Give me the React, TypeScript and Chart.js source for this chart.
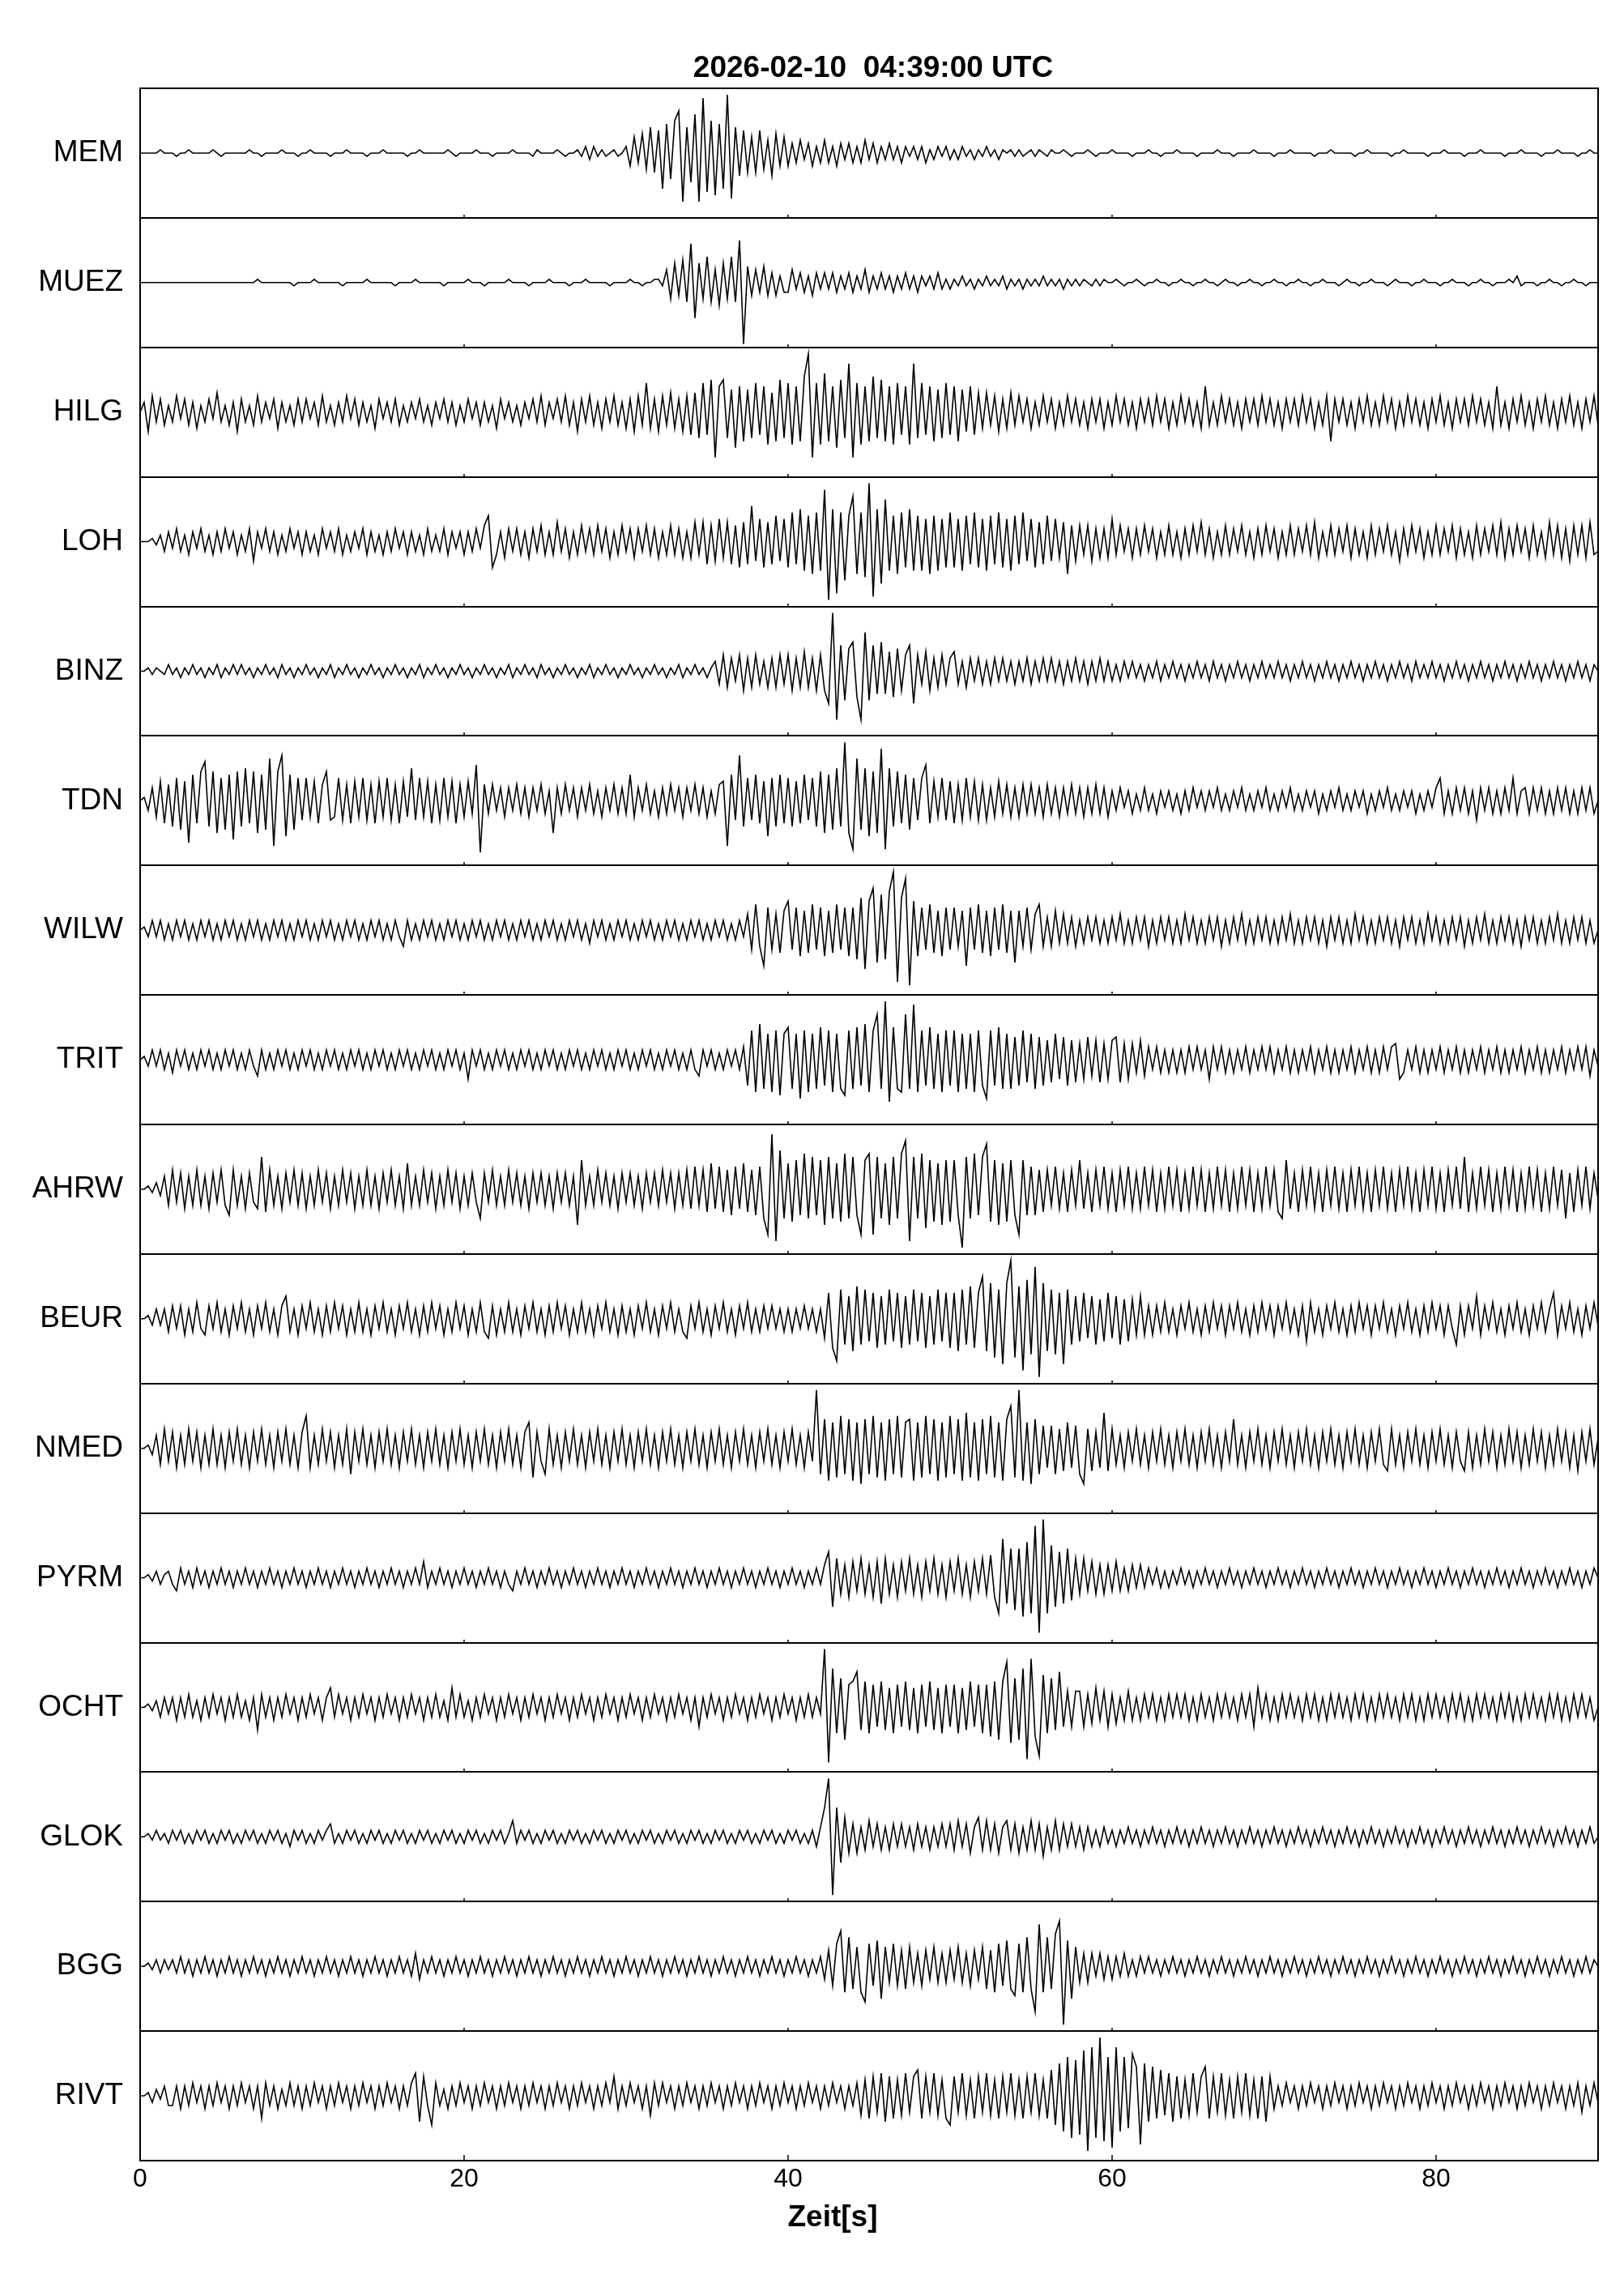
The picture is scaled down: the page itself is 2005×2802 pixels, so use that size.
import React, { useEffect, useRef } from 'react';
import { Chart, registerables } from 'chart.js';

Chart.register(...registerables);

// ---------------- data ----------------
const TITLE = '2026-02-10  04:39:00 UTC';
const X_LABEL = 'Zeit[s]';
const X_MIN = 0;
const X_MAX = 90;
const X_TICKS = [0, 20, 40, 60, 80];
const SAMPLE_STEP = 0.25; // seconds between samples
const FULL_SCALE = 20; // sample value that reaches the edge of a trace panel

const STATIONS = ['MEM', 'MUEZ', 'HILG', 'LOH', 'BINZ', 'TDN', 'WILW', 'TRIT', 'AHRW', 'BEUR', 'NMED', 'PYRM', 'OCHT', 'GLOK', 'BGG', 'RIVT'];

const MEM = [
  0,0,0,0,0,1,0,0, 0,-1,0,0,1,0,0,0, 0,0,1,0,-1,0,0,0, 0,0,0,1,0,0,-1,0, 0,0,0,1,0,0,0,-1,
  0,0,1,0,0,0,0,-1, 0,0,0,1,0,0,0,0, -1,0,0,0,1,0,0,0, 0,0,-1,0,0,1,0,0, 0,0,0,0,1,0,-1,0,
  0,0,0,1,0,0,0,-1, 0,0,0,0,1,0,0,0, 0,-1,1,0,0,0,0,1, 0,-1,0,0,1,-1,2,-2, 2,-1,1,-1,0,1,-1,0,
  2,-4,5,-3,6,-5,8,-6, 7,-11,9,-8,10,13,-15,8, -9,12,-15,17,-12,10,-13,9, -11,18,-14,8,-7,7,-6,5, -6,7,-5,4,-7,6,-4,5,
  -4,3,-3,4,-2,3,-4,2, -3,4,-3,2,-4,3,-2,3, -3,2,-3,4,-2,3,-3,2, -2,3,-2,2,-3,2,-1,2, -2,2,-3,1,-2,2,-1,2,
  -2,1,-2,2,-1,1,-2,1, -1,2,-1,1,-2,1,0,1, -1,1,-1,0,1,-1,1,0, -1,1,0,0,1,0,-1,0, 0,0,1,0,-1,0,0,0,
  1,0,0,0,0,-1,0,0, 0,1,0,0,-1,0,0,0, 1,0,0,0,0,-1,0,0, 0,0,1,0,0,0,-1,0, 0,0,0,1,0,0,0,0,
  -1,0,0,0,1,0,0,0, 0,0,-1,0,0,0,1,0, 0,0,0,0,-1,0,0,1, 0,0,0,0,0,-1,0,0, 1,0,0,0,0,0,-1,0,
  0,0,1,0,0,0,0,-1, 0,0,0,1,0,0,0,0, 0,-1,0,0,0,1,0,0, 0,0,-1,0,0,0,1,0, 0,0,0,-1,0,0,1,0,
  0,
];

const MUEZ = [
  0,0,0,0,0,0,0,0, 0,0,0,0,0,0,0,0, 0,0,0,0,0,0,0,0, 0,0,0,0,0,1,0,0, 0,0,0,0,0,0,-1,0,
  0,0,0,1,0,0,0,0, 0,0,-1,0,0,0,0,0, 1,0,0,0,0,0,0,-1, 0,0,0,0,1,0,0,0, 0,0,0,-1,0,0,0,0,
  0,1,0,0,0,-1,0,0, 0,0,0,1,0,0,0,0, -1,0,0,0,0,1,0,0, 0,0,-1,0,0,0,1,0, 0,0,0,0,-1,0,0,0,
  0,1,0,0,-1,0,0,1, 1,-1,4,-5,6,-4,7,-6, 12,-11,6,-5,8,-6,4,-7, 6,-5,8,-6,13,-19,5,-4, 4,-3,5,-4,3,-4,2,-3,
  -3,4,-2,3,-3,2,-4,3, -2,3,-2,3,-3,2,-2,3, -3,2,-2,4,-3,2,-2,3, -2,2,-3,2,-2,3,-2,2, -3,2,-1,2,-2,3,-2,1,
  -2,1,-1,2,-1,1,-2,1, -1,2,-1,1,-1,2,-2,1, -1,1,-2,1,-1,1,-1,2, -1,1,-1,1,-2,1,-1,1, -1,1,0,-1,1,-1,1,0,
  0,1,0,-1,0,0,1,0, -1,0,0,1,0,0,-1,0, 0,1,0,0,-1,0,0,1, 0,0,-1,0,1,0,0,-1, 0,0,1,0,0,-1,0,0,
  1,0,0,-1,0,0,1,0, 0,-1,0,0,1,0,0,0, -1,0,1,0,0,-1,0,0, 1,0,0,0,-1,0,1,0, 0,0,-1,0,0,1,0,0,
  0,-1,0,0,1,0,0,0, -1,0,0,1,0,0,-1,0, 0,0,1,0,2,-1,0,0, 0,-1,0,0,1,0,0,-1, 0,0,1,0,0,-1,0,0,
  0,
];

const HILG = [
  0,3,-6,5,-3,4,-4,2, -3,5,-2,4,-4,3,-5,2, -3,4,-2,6,-3,2,-4,3, -6,4,-3,2,-4,5,-3,3, -2,4,-5,3,-3,2,-4,4,
  -3,4,-2,3,-4,5,-3,2, -4,3,-3,5,-2,4,-4,3, -3,2,-5,4,-2,3,-3,4, -4,2,-3,3,-2,4,-3,2, -4,3,-2,4,-3,3,-4,2,
  -3,4,-2,3,-4,3,-3,2, -5,4,-2,3,-3,2,-4,3, -2,4,-3,5,-4,3,-2,4, -3,5,-4,3,-6,4,-3,5, -4,3,-5,4,-3,5,-4,3,
  -5,4,-6,5,-4,9,-5,4, -6,5,-4,6,-5,4,-6,5, -7,6,-8,9,-7,10,-14,8, 10,-8,7,-11,8,-9,7,-8, 9,-7,8,-10,6,-9,10,-8,
  9,-10,8,-9,11,18,-14,9, -10,12,-9,8,-11,10,-8,15, -14,9,-10,8,-9,11,-8,10, -9,8,-10,9,-7,8,-10,15, -8,9,-7,8,-9,7,-8,9,
  -7,8,-9,7,-6,8,-7,6, -5,6,-4,5,-6,4,-5,6, -4,5,-3,4,-5,3,-4,5, -3,4,-5,3,-4,5,-3,4, -4,3,-5,4,-3,4,-5,3,
  -4,5,-3,4,-4,3,-5,4, -3,4,-4,5,-3,4,-5,3, -4,5,-3,4,-4,3,-5,8, -4,3,-4,5,-3,4,-4,3, -5,4,-3,4,-4,5,-3,4,
  -4,3,-5,4,-3,4,-4,5, -3,4,-5,3,-4,5,-9,4, -3,4,-4,3,-5,4,-3,5, -4,3,-4,5,-3,4,-5,3, -4,5,-3,4,-4,3,-5,4,
  -3,5,-4,3,-5,4,-3,4, -4,5,-3,4,-4,3,-5,8, -4,3,-5,4,-3,5,-4,3, -5,4,-3,5,-4,3,-5,4, -3,5,-4,3,-5,4,-3,5,
  -4,
];

const LOH = [
  0,0,0,1,-1,2,-3,3, -2,4,-3,2,-4,3,-2,4, -3,2,-4,3,-3,4,-2,3, -4,2,-3,4,-6,3,-2,4, -3,3,-4,2,-3,4,-2,3,
  -4,3,-3,2,-4,4,-2,3, -3,4,-4,2,-3,3,-2,4, -4,3,-3,2,-4,3,-3,4, -2,3,-4,3,-3,2,-4,4, -3,2,-3,4,-4,3,-2,3,
  -4,3,-3,4,-2,5,8,-8, -4,3,-5,4,-3,4,-4,3, -5,4,-3,5,-4,3,-4,6, -3,4,-5,3,-4,5,-3,4, -4,5,-3,4,-5,3,-4,5,
  -3,4,-5,4,-3,5,-4,4, -5,3,-4,5,-4,4,-5,3, -5,6,-4,6,-7,5,-6,7, -5,6,-7,5,-8,6,-7,11, -6,7,-8,6,-7,8,-6,7,
  -8,9,-7,10,-9,8,-10,9, -9,16,-18,10,-16,9,-12,8, 14,-10,9,-11,18,-17,10,-13, 13,-9,8,-10,9,-8,10,-9, 8,-9,7,-10,8,-9,7,-8,
  9,-8,7,-9,8,-7,9,-8, 7,-9,8,-7,9,-8,7,-9, 8,-7,9,-6,7,-8,6,-7, 8,-6,7,-5,6,-10,5,-6, 5,-4,5,-6,4,-5,4,-5,
  7,-4,5,-3,4,-5,4,-4, 5,-3,4,-5,3,-4,5,-4, 3,-5,4,-4,5,-3,6,-4, 4,-5,3,-4,5,-4,4,-3, 5,-4,3,-5,4,-4,5,-3,
  4,-5,3,-4,5,-4,4,-3, 5,-4,6,-5,3,-4,5,-4, 4,-3,5,-5,4,-4,3,-5, 5,-4,4,-3,5,-4,3,-6, 4,-4,5,-3,4,-5,3,-4,
  5,-4,4,-3,5,-5,4,-4, 3,-5,5,-4,4,-3,5,-4, 6,-5,4,-4,5,-3,4,-5, 5,-4,3,-5,6,-4,5,-5, 4,-6,5,-4,5,-5,6,-4,
  -3,
];

const BINZ = [
  0,0,1,-1,1,0,-1,2, -1,1,-2,1,-1,2,-1,1, -2,1,-1,2,-2,1,-1,2, -1,2,-1,1,-2,1,-1,2, -1,1,-2,2,-1,1,-2,1,
  -1,2,-1,1,-2,1,-1,2, -2,1,-1,2,-1,1,-2,1, -1,2,-1,1,-2,1,-1,2, -1,1,-2,1,-1,2,-2,1, -1,2,-1,1,-2,1,-1,2,
  -1,1,-2,1,-1,2,-1,1, -2,1,-1,2,-2,1,-1,2, -1,1,-2,2,-1,1,-2,1, -1,2,-1,1,-2,1,-1,2, -2,1,-1,2,-1,1,-2,1,
  -1,2,-1,1,-2,1,-1,2, -1,1,-2,1,-1,2,-2,1, -1,2,-1,1,-2,1,3,-4, 5,-5,4,-3,5,-6,4,-5, 5,-4,3,-5,4,-5,5,-4,
  5,-6,4,-5,6,-5,4,-6, 5,-6,-10,18,-15,8,-9,7, 9,-8,-15,12,-9,8,-7,9, -7,6,-8,7,-6,5,8,-10, 5,-4,6,-6,4,-5,5,-4,
  4,6,-4,3,-5,4,-3,4, -4,3,-4,4,-3,4,-3,3, -4,3,-3,4,-4,3,-3,4, -3,4,-3,3,-4,3,-3,4, -3,3,-4,3,-3,4,-3,3,
  -3,2,-3,3,-2,3,-2,2, -3,2,-2,3,-3,2,-2,3, -2,2,-3,2,-2,3,-2,2, -3,3,-2,2,-3,2,-2,3, -2,2,-3,2,-2,3,-2,2,
  -2,3,-2,2,-3,2,-2,3, -2,2,-3,2,-2,3,-2,2, -3,2,-2,3,-2,2,-3,2, -2,3,-2,2,-3,2,-2,3, -2,2,-3,3,-2,2,-2,3,
  -2,2,-3,2,-2,3,-2,2, -3,2,-2,3,-2,2,-3,2, -2,3,-2,2,-3,2,-2,3, -2,2,-3,2,-2,3,-2,2, -3,2,-2,3,-2,2,-3,2,
  0,
];

const TDN = [
  0,1,-3,4,-5,6,-7,5, -8,7,-9,6,-13,8,-7,9, 12,-8,9,-10,7,-9,8,-12, 9,-8,10,-7,9,-10,8,-9, 13,-14,9,14,-11,8,-9,7,
  -6,7,-5,6,-7,5,9,-6, -5,7,-6,5,-7,6,-5,7, -6,5,-7,6,-5,7,-6,5, -7,6,-5,10,-6,7,-5,6, -7,5,-6,7,-5,6,-7,5,
  -5,6,-4,11,-16,5,-4,5, -3,4,-5,4,-3,5,-4,4, -5,4,-3,5,-4,3,-10,4, -4,5,-3,4,-5,4,-3,5, -4,3,-5,4,-3,5,-4,4,
  -4,8,-5,4,-3,5,-4,3, -5,4,-4,5,-3,4,-5,4, -3,5,-4,4,-5,3,-4,5, 6,-14,8,-6,14,-8,7,-6, 8,-7,6,-11,7,-8,8,-7,
  7,-8,6,-7,8,-6,7,-8, 9,-10,8,-9,10,-8,18,-10, -15,13,-9,10,-11,9,-10,16, -15,10,-8,9,-7,8,-9,7, -6,7,11,-7,6,-5,7,-6,
  6,-7,5,-6,7,-5,6,-6, 5,-6,4,-5,6,-4,5,-5, 4,-5,5,-4,5,-4,4,-5, 5,-4,4,-5,4,-4,5,-4, 4,-5,4,-4,5,-4,4,-5,
  3,-3,4,-2,3,-4,2,-3, 4,-3,2,-4,3,-2,3,-3, 2,-4,3,-3,4,-2,3,-3, 3,-2,4,-3,2,-3,3,-2, 4,-3,2,-3,3,-2,4,-3,
  2,-3,3,-2,4,-3,2,-3, 3,-2,3,-4,2,-3,3,-2, 4,-3,2,-3,3,-2,3,-4, 2,-3,3,-2,4,-3,2,-3, 3,-2,3,-4,2,-3,3,-2,
  4,7,-4,3,-4,4,-3,4, -4,3,-6,4,-3,4,-4,3, -4,4,-3,7,-4,3,4,-4, 4,-3,4,-4,3,-4,4,-3, 4,-4,3,-4,4,-3,4,-4,
  0,
];

const WILW = [
  0,1,-2,3,-2,3,-3,2, -3,3,-2,3,-3,2,-3,3, -2,3,-3,2,-3,3,-2,3, -3,2,-3,3,-2,3,-3,2, -3,3,-2,3,-3,2,-3,3,
  -2,3,-3,2,-3,3,-2,3, -3,2,-3,3,-2,3,-3,2, -3,3,-2,3,-3,2,-3,3, -2,-5,3,-3,2,-3,3,-2, 3,-3,2,-3,3,-2,3,-3,
  2,-3,3,-2,3,-3,2,-3, 3,-2,3,-3,2,-3,3,-2, 3,-3,2,-3,3,-2,3,-3, 2,-3,3,-2,3,-3,2,-4, 3,-2,3,-3,2,-3,3,-2,
  3,-3,2,-3,3,-2,3,-3, 2,-3,3,-2,3,-3,2,-3, 3,-2,3,-3,2,-3,3,-2, 3,-3,2,-3,3,-2,5,-6, 8,-5,-11,7,-6,5,-7,6,
  9,-6,7,-8,6,-7,8,-6, 7,-8,6,-7,8,-6,7,-8, 7,-9,10,-12,9,13,-10,11, -9,12,18,-16,10,16,-17,9, -8,7,-6,8,-7,6,-8,7,
  -6,7,-5,6,-11,7,-6,8, -7,6,-8,7,-6,8,-7,6, -10,6,-5,7,-6,5,8,-5, 4,-5,6,-4,5,-4,4,-5, 3,-4,4,-3,4,-4,3,-4,
  4,-3,5,-4,3,-4,4,-3, 4,-5,3,-4,4,-3,4,-4, 3,-4,5,-3,4,-4,3,-4, 4,-3,4,-5,3,-4,4,-3, 5,-4,3,-4,4,-3,4,-4,
  3,-4,4,-3,5,-4,3,-4, 4,-3,4,-4,3,-5,4,-3, 4,-4,3,-4,5,-3,4,-4, 3,-4,4,-3,4,-4,3,-5, 4,-3,4,-4,3,-4,5,-3,
  4,-4,3,-4,4,-3,4,-5, 3,-4,4,-3,5,-4,3,-4, 4,-3,4,-4,3,-5,4,-3, 4,-4,3,-4,4,-3,5,-4, 3,-4,4,-3,4,-4,3,-4,
  0,
];

const TRIT = [
  0,1,-2,3,-2,3,-3,2, -4,3,-2,3,-3,2,-3,3, -2,3,-3,2,-3,3,-2,3, -3,2,-3,3,-2,-5,3,-3, 2,-3,3,-2,3,-3,2,-3,
  3,-2,3,-3,2,-3,3,-2, 3,-3,2,-3,3,-2,3,-3, 2,-3,3,-2,3,-3,2,-3, 3,-2,3,-3,2,-3,3,-2, 3,-3,2,-3,3,-2,3,-3,
  2,-6,3,-2,3,-3,2,-3, 3,-2,3,-3,2,-3,3,-2, 3,-3,2,-3,3,-2,3,-3, 2,-3,3,-2,3,-3,2,-3, 3,-2,3,-3,2,-3,3,-2,
  3,-3,2,-3,3,-2,3,-3, 2,-3,3,-2,3,-3,2,-3, 3,-3,-5,3,-2,3,-3,2, -3,3,-2,3,-3,4,-8,9, -10,11,-9,8,-10,9,-11,8,
  10,-9,8,-12,9,-10,8,-9, 10,-8,9,-10,8,-9,-11,9, -9,10,-8,11,-10,9,14,-9, 18,-13,10,-9,-10,14,-9,17, -10,9,-8,10,-9,8,-10,9,
  -8,9,-10,8,-9,8,-10,9, -8,-12,9,-8,10,-9,8,-9, 7,-8,9,-7,8,-9,7,-8, 6,-7,8,-6,7,-8,6,-7, 5,-6,7,-5,6,-7,5,-6,
  6,7,-7,5,-6,5,-4,6, -5,4,-3,4,-4,3,-4,3, -4,3,-4,4,-3,4,-3,3, -6,4,-3,4,-4,3,-4,3, -3,4,-4,3,-3,4,-3,4,
  -4,3,-3,4,-4,3,-4,3, -3,4,-4,3,-3,4,-4,3, -4,3,-3,4,-4,3,-3,4, -4,3,-4,4,-3,4,5,-6, -4,3,-3,4,-4,3,-4,3,
  -3,4,-4,3,-3,4,-4,3, -4,3,-3,4,-4,3,-3,4, -4,3,-4,3,-3,4,-4,3, -3,4,-4,3,-4,3,-3,4, -4,3,-3,4,-3,4,-5,3,
  -2,
];

const AHRW = [
  0,0,1,-1,2,-2,4,-5, 6,-4,5,-6,4,-5,6,-5, 4,-6,5,-4,6,-5,-8,6, -5,4,-6,5,-4,-6,10,-7, 6,-5,4,-6,5,-4,6,-5,
  5,-6,4,-5,6,-4,5,-6, 4,-5,6,-4,5,-6,4,-5, 6,-5,4,-6,5,-4,6,-5, 4,-6,8,-5,4,-5,6,-4, 5,-6,4,-5,6,-4,5,-6,
  4,-5,5,-4,-9,5,-4,6, -5,4,-5,6,-4,5,-5,4, -6,5,-4,5,-5,4,-6,5, -4,5,-5,4,-11,9,-5,4, -5,6,-4,5,-5,4,-6,5,
  -4,5,-5,4,-6,5,-4,5, -5,6,-4,5,-6,5,-5,6, -6,7,-5,6,-7,8,-6,7, -7,6,-8,7,-6,8,-7,6, -8,7,-9,-14,17,-16,12,-9,
  8,-10,9,-8,11,-9,10,-8, 9,-11,10,-9,8,-10,11,-9, 10,-8,-14,9,11,-14,10,-9, 8,-11,10,-9,11,15,-16,10, -9,11,-12,9,-10,8,-11,9,
  -10,9,-8,-18,10,-9,11,-8, 10,14,-10,9,-11,8,-10,9, -8,-14,9,-8,7,-8,6,-7, 6,-5,7,-6,5,-7,6,-5, 9,-6,5,-7,6,-5,7,-6,
  5,-7,6,-5,7,-6,5,-6, 7,-5,6,-7,5,-6,7,-5, 6,-7,5,-6,7,-5,6,-7, 5,-6,7,-5,6,-7,5,-6, 7,-5,6,-7,5,-6,7,-5,
  6,-7,-9,9,-6,5,-7,6, -5,7,-6,5,-7,6,-5,7, -6,5,-7,6,-5,7,-6,5, -7,6,-5,7,-6,5,-7,6, -5,7,-6,5,-7,6,-5,7,
  -6,5,-7,6,-5,7,-6,10, -7,5,-6,7,-5,6,-7,5, -6,7,-5,6,-7,5,-6,7, -5,6,-7,5,-6,7,-5,6, -9,5,-7,6,-5,7,-6,5,
  -3,
];

const BEUR = [
  0,0,1,-2,3,-2,3,-4, 4,-3,4,-5,3,-4,5,-3, -5,4,-3,5,-4,3,-5,4, -3,5,-4,3,-5,4,-3,5, -4,3,-5,4,7,-4,3,-5,
  4,-3,5,-4,3,-5,4,-4, 5,-3,4,-5,3,-4,5,-4, 3,-5,4,-3,5,-4,3,-5, 4,-3,5,-4,3,-5,4,-4, 5,-3,4,-5,3,-4,5,-3,
  4,-5,3,-4,5,-4,-6,4, -5,3,-4,5,-4,3,-5,4, -3,5,-4,3,-5,4,-4,5, -3,4,-5,3,-4,5,-4,3, -5,4,-3,5,-4,3,-5,4,
  -4,3,-5,4,-3,5,-4,3, -5,4,-3,5,-4,3,-4,-6, 4,-3,5,-4,3,-5,4,-3, 5,-4,3,-5,4,-3,5,-4, 3,-4,4,-3,4,-3,3,-4,
  3,-4,3,-3,4,-3,3,-4, 3,-6,8,-9,-13,9,-8,7, -10,10,-8,9,-7,8,-9,7, -8,9,-7,8,-9,7,-8,9, -7,8,-9,7,-8,9,-7,8,
  -9,8,-10,9,-8,10,-9,8, 13,-10,11,-12,9,-14,11,18, -12,10,-16,12,-11,16,-18,11, -10,9,-11,8,-14,9,-8,7, -7,8,-6,7,-8,6,-7,8,
  -6,7,-8,6,-7,6,-5,7, -5,4,-5,4,-4,5,-4,3, -5,4,-3,5,-4,3,-5,4, -4,5,-3,4,-5,4,-3,5, -4,3,-5,4,-4,5,-3,4,
  -5,4,-3,5,-4,3,-5,4, -7,5,-4,3,-5,4,-3,5, -4,3,-5,4,-4,5,-3,4, -5,4,-3,5,-4,3,-5,4, -3,5,-4,3,-5,4,-4,5,
  -3,4,-5,4,-3,-8,4,-5, 4,-3,7,-5,4,-3,5,-4, 3,-5,4,-3,5,-4,3,-5, 4,-3,5,-4,3,8,-5,4, -3,5,-4,3,-5,4,-3,5,
  -2,
];

const NMED = [
  0,0,1,-2,4,-5,6,-4, 5,-6,4,-5,6,-4,5,-6, 4,-5,6,-5,4,-6,5,-4, 6,-5,4,-6,5,-4,6,-5, 4,-6,5,-4,6,-5,4,-6,
  5,10,-6,4,-5,6,-4,5, -6,4,-5,6,-8,5,-4,6, -5,4,-6,5,-4,6,-5,4, -6,5,-4,6,-5,4,-6,5, -4,6,-5,4,-6,5,-4,6,
  -5,4,-6,5,-4,6,-5,4, -6,5,-4,6,-5,4,-6,5, 8,-9,5,-4,-8,6,-5,4, -6,5,-4,6,-5,4,-6,5, -4,6,-5,4,-6,5,-4,6,
  -5,4,-6,5,-4,6,-5,4, -6,5,-4,6,-5,4,-6,5, -4,6,-5,4,-6,5,-4,6, -5,4,-6,5,-4,6,-5,4, -6,5,-4,6,-5,4,-6,5,
  -4,6,-5,4,-6,5,-4,18, -8,9,-10,8,-9,10,-8,9, -10,8,-11,9,-8,10,-9,8, -10,9,-8,10,-9,8,9,-10, 8,-9,10,-8,9,-10,8,-9,
  10,-8,9,-10,11,-9,8,-10, 9,-8,10,-9,8,-10,9,13, -9,18,-10,8,-11,9,-8,7, -6,7,-8,6,-7,8,-6,7, -8,-11,6,-7,5,-6,11,-7,
  6,-5,4,-6,5,-4,6,-5, 4,-6,5,-4,6,-5,4,-6, 5,-4,6,-5,4,-6,5,-4, 6,-5,4,-6,5,-4,9,-5, 4,-6,5,-4,6,-5,4,-6,
  5,-4,6,-5,4,-6,5,-4, 6,-5,4,-6,5,-4,6,-5, 4,-6,5,-4,6,-5,4,-6, 5,-4,6,-5,-7,6,-5,4, -6,5,-4,6,-5,4,-6,5,
  -4,6,-5,4,-6,5,-4,-7, 5,-6,4,-5,6,-4,5,-6, 4,-5,6,-4,5,-6,4,-5, 6,-4,5,-6,4,-5,6,-4, 5,-6,4,-7,5,-4,6,-5,
  3,
];

const PYRM = [
  0,0,1,-1,2,-2,1,2, -2,-4,3,-2,2,-3,3,-2, 2,-3,2,-2,3,-2,2,-3, 2,-2,3,-2,2,-3,2,-2, 3,-2,2,-3,2,-2,3,-2,
  2,-3,2,-2,3,-2,2,-3, 2,-2,3,-2,2,-3,2,-2, 3,-2,2,-3,2,-2,3,-2, 2,-3,2,-2,3,-2,5,-3, 2,-2,3,-2,2,-3,2,-2,
  3,-2,2,-3,2,-2,3,-2, 2,-3,2,-2,-4,2,-2,3, -2,2,-3,2,-2,3,-2,2, -3,2,-2,3,-2,2,-3,2, -2,3,-2,2,-3,2,-2,3,
  -2,2,-3,2,-2,3,-2,2, -3,2,-2,3,-2,2,-3,2, -2,3,-2,2,-3,2,-2,3, -2,2,-3,2,-2,3,-2,2, -3,2,-2,3,-2,2,-3,2,
  -2,3,-2,2,-3,2,-2,3, -2,4,8,-9,6,-5,4,-6, 5,-4,6,-5,4,-6,5,-8, 6,-5,4,-6,5,-4,6,-5, 4,-6,5,-4,6,-5,4,-6,
  5,-4,6,-5,4,-6,5,-4, 6,-5,7,-6,-11,12,-8,9, -10,9,-12,11,-11,16,-17,18, -11,10,-9,8,-8,9,-7,6, -5,6,-4,5,-5,4,-5,4,
  -4,5,-4,3,-4,4,-3,4, -3,3,-2,3,-3,2,-3,2, -2,3,-2,2,-3,2,-2,3, -2,2,-3,2,-2,3,-2,2, -3,2,-2,3,-2,2,-3,2,
  -2,3,-2,2,-3,2,-2,3, -2,2,-3,2,-2,3,-2,2, -3,2,-2,3,-2,2,-3,2, -2,3,-2,2,-3,2,-2,3, -2,2,-3,2,-2,3,-2,2,
  -3,2,-2,3,-2,2,-3,2, -2,3,-2,2,-3,2,-2,3, -2,2,-3,2,-2,3,-2,2, -3,2,-2,3,-2,2,-3,2, -2,3,-2,2,-3,2,-2,3,
  0,
];

const OCHT = [
  0,0,1,-1,2,-3,3,-2, 3,-4,3,-3,4,-3,2,-4, 3,-3,4,-2,3,-4,3,-3, 4,-3,2,-4,3,-7,4,-3, 3,-4,3,-3,4,-2,3,-4,
  3,-3,4,-2,3,-4,3,6, -3,4,-2,3,-4,3,-3,4, -2,3,-4,3,-3,4,-2,3, -4,3,-3,4,-2,3,-4,3, -3,4,-3,2,-4,6,-3,4,
  -3,2,-4,3,-3,4,-2,3, -4,3,-3,4,-2,3,-4,3, -3,4,-2,3,-4,3,-3,4, -2,3,-4,3,-3,4,-2,3, -4,3,-3,4,-2,3,-4,3,
  -3,4,-2,3,-4,3,-3,4, -2,3,-4,3,-3,4,-2,3, -4,3,-6,3,-3,4,-2,3, -4,3,-3,4,-2,3,-4,3, -3,4,-2,3,-4,3,-3,4,
  -2,3,-4,3,-3,4,-3,3, -2,18,-17,12,-8,9,-10,7, 8,11,-7,8,-8,7,-6,8, -7,6,-8,7,-6,8,-7,6, -8,7,-6,8,-7,6,-8,7,
  -6,7,-8,6,-7,8,-6,7, -8,7,-9,8,-10,8,14,-11, 9,-10,12,-16,15,-9,-15,10, -8,9,-7,11,-6,5,-6,5, 5,-6,4,-5,6,-4,5,-6,
  4,-5,3,-4,5,-4,3,-4, 4,-3,4,-4,3,-4,4,-3, 4,-3,4,-4,3,-4,4,-3, 3,-4,4,-3,4,-3,3,-4, 4,-3,4,-6,6,-3,4,-4,
  3,-4,4,-3,4,-3,3,-4, 4,-3,4,-4,3,-4,4,-3, 4,-3,3,-4,4,-3,4,-4, 3,-4,4,-3,4,-3,3,-4, 4,-3,4,-4,3,-4,4,-3,
  4,-3,3,-4,4,-3,4,-4, 3,-4,4,-3,4,-3,3,-4, 4,-3,4,-4,3,-4,4,-3, 4,-3,3,-4,4,-3,4,-4, 3,-4,4,-3,4,-3,3,-4,
  0,
];

const GLOK = [
  0,0,1,-1,2,-1,1,-2, 2,-1,2,-2,1,-2,2,-1, 2,-2,1,-2,2,-1,2,-2, 1,-2,2,-1,2,-2,1,-2, 2,-1,2,-2,1,-3,2,-1,
  2,-2,1,-2,2,-1,2,4, -2,1,-2,2,-1,2,-2,1, -2,2,-1,2,-2,1,-2,2, -1,2,-2,1,-2,2,-1,2, -2,1,-2,2,-1,2,-2,1,
  -2,2,-1,2,-2,1,-2,2, -1,2,-2,1,5,-2,2,-1, 2,-2,1,-2,2,-1,2,-2, 1,-2,2,-1,2,-2,1,-2, 2,-1,2,-2,1,-2,2,-1,
  2,-2,1,-2,2,-1,2,-2, 1,-2,2,-1,2,-2,1,-2, 2,-1,2,-2,1,-2,2,-1, 2,-2,1,-2,2,-1,2,-2, 1,-2,2,-1,2,-2,1,-2,
  2,-1,2,-2,1,-2,2,-3, 3,9,18,-18,9,-8,6,-5, 4,-5,3,-4,5,-3,4,-4, 3,-4,4,-3,4,-3,3,-4, 4,-3,3,-4,3,-3,4,-3,
  4,-4,5,-3,4,-5,3,6, -4,5,-4,4,-5,3,5,-4, 4,-5,3,-4,5,-4,4,-6, 3,-4,5,-4,4,-3,4,-3, 3,-4,3,-3,2,-3,3,-2,
  2,-3,2,-2,3,-2,2,-3, 2,-2,3,-2,2,-3,2,-2, 3,-2,2,-3,2,-2,3,-2, 2,-3,2,-2,3,-2,2,-3, 2,-2,3,-2,2,-3,2,-2,
  3,-2,2,-3,2,-2,3,-2, 2,-3,2,-2,3,-2,2,-3, 2,-2,3,-2,2,-3,2,-2, 3,-2,2,-3,2,-2,3,-2, 2,-3,2,-2,3,-2,2,-3,
  2,-2,3,-2,2,-3,2,-2, 3,-2,2,-3,2,-2,3,-2, 2,-3,2,-2,3,-2,2,-3, 2,-2,3,-2,2,-3,2,-2, 3,-2,2,-3,2,-2,3,-2,
  0,
];

const BGG = [
  0,0,1,-1,2,-2,2,-1, 2,-2,3,-2,2,-3,2,-2, 3,-2,2,-3,2,-2,3,-2, 2,-3,2,-2,3,-2,2,-3, 2,-2,3,-2,2,-3,2,-2,
  3,-2,2,-3,2,-2,3,-2, 2,-3,2,-2,3,-2,2,-3, 2,-2,3,-2,2,-3,2,-2, 3,-2,2,-3,4,-4,2,-2, 3,-2,2,-3,2,-2,3,-2,
  2,-3,2,-2,3,-2,2,-3, 2,-2,3,-2,2,-3,2,-2, 3,-2,2,-3,2,-2,3,-2, 2,-3,2,-2,3,-2,2,-3, 2,-2,3,-2,2,-3,2,-2,
  3,-2,2,-3,2,-2,3,-2, 2,-3,2,-2,3,-2,2,-3, 2,-2,3,-2,2,-3,2,-2, 3,-2,2,-3,2,-2,3,-2, 2,-3,2,-2,3,-2,2,-3,
  2,-2,3,-2,2,-3,2,-2, 3,-4,5,-6,7,11,-8,9, -7,6,-8,-11,7,-6,8,-10, 6,-5,7,-6,5,-7,6,-5, 4,-6,5,-4,6,-5,4,-5,
  5,-4,6,-5,4,-6,5,-4, 6,-7,5,-8,7,-6,8,-7, -9,7,-8,9,-7,-14,13,-8, 9,-7,10,14,-18,8,-10,6, -5,4,-5,4,-3,4,-4,3,
  -4,3,-3,4,-3,2,-3,3, -2,3,-2,2,-3,2,-2,3, -2,2,-3,2,-2,3,-2,2, -3,2,-2,3,-2,2,-3,2, -2,3,-2,2,-3,2,-2,3,
  -2,2,-3,2,-2,3,-2,2, -3,2,-2,3,-2,2,-3,2, -2,3,-2,2,-3,2,-2,3, -2,2,-3,2,-2,3,-2,2, -3,2,-2,3,-2,2,-3,2,
  -2,3,-2,2,-3,2,-2,3, -2,2,-3,2,-2,3,-2,2, -3,2,-2,3,-2,2,-3,2, -2,3,-2,2,-3,2,-2,3, -2,2,-3,2,-2,3,-2,2,
  0,
];

const RIVT = [
  0,0,1,-2,2,-1,3,-3, -3,3,-4,3,-3,4,-2,3, -4,3,-3,4,-2,3,-4,3, -3,4,-2,3,-4,3,-7,4, -3,3,-4,2,-3,4,-3,3,
  -4,3,-3,4,-2,3,-4,3, -3,4,-2,3,-4,3,-3,4, -2,3,-4,3,-3,4,-2,3, -4,3,-3,4,7,-8,6,-3, -9,4,-3,2,-4,3,-3,4,
  -2,3,-4,3,-3,4,-2,3, -4,3,-3,4,-2,3,-4,3, -3,4,-2,3,-4,3,-3,4, -2,3,-4,3,-3,4,-2,3, -4,3,-3,4,-2,6,-4,3,
  -3,4,-2,3,-4,3,-6,4, -3,4,-2,3,-4,3,-3,4, -2,3,-4,3,-3,4,-2,3, -4,3,-3,4,-2,3,-4,3, -3,4,-2,3,-4,3,-3,4,
  -2,3,-4,3,-3,4,-2,3, -4,3,-3,4,-2,3,-4,3, -3,4,-6,5,-7,6,-5,7, -8,6,-7,5,-6,7,-5,6, 8,-7,6,-5,7,-6,5,-7,
  -9,6,-5,7,-6,5,-7,6, -5,7,-6,5,-7,6,-5,7, -6,5,-7,6,-5,7,-6,5, -7,8,-9,10,-11,12,-13,11, -12,14,-17,15,-13,18,-14,12,
  -16,15,-11,12,-10,13,9,-15, 10,-8,9,-7,8,-6,7,-8, 6,-7,5,-6,7,-5,6,9, -7,6,-5,7,-6,5,-7,6, -5,7,-6,5,-7,6,-8,6,
  -4,3,-3,4,-2,3,-4,3, -3,4,-2,3,-4,3,-3,4, -2,3,-4,3,-3,4,-2,3, -4,3,-3,4,-2,3,-4,3, -3,4,-2,3,-4,3,-3,4,
  -2,3,-4,3,-3,4,-2,3, -4,3,-3,4,-2,3,-4,3, -3,4,-2,3,-4,3,-3,4, -2,3,-4,3,-3,4,-2,3, -4,3,-3,4,-5,3,-3,4,
  -2,
];

const TRACES = [MEM, MUEZ, HILG, LOH, BINZ, TDN, WILW, TRIT, AHRW, BEUR, NMED, PYRM, OCHT, GLOK, BGG, RIVT];

// ---------------- chart ----------------
const N = STATIONS.length;
const FONT = "'Liberation Sans', Arial, Helvetica, sans-serif";
const W = 2005;
const H = 2802;

const framePlugin = {
  id: 'seismoFrame',
  afterDatasetsDraw(chart: any) {
    const { ctx, chartArea: a, scales } = chart;
    const xs = scales.x;
    const ys = scales.y;
    ctx.save();
    ctx.strokeStyle = '#000';
    ctx.lineWidth = 2;
    for (let k = 1; k < N; k++) {
      const y = Math.round(ys.getPixelForValue(k));
      ctx.beginPath();
      ctx.moveTo(a.left, y);
      ctx.lineTo(a.right, y);
      ctx.stroke();
    }
    ctx.strokeRect(a.left, a.top, a.right - a.left, a.bottom - a.top);
    ctx.lineWidth = 1.5;
    for (let k = 0; k < N; k++) {
      const y = Math.round(ys.getPixelForValue(k));
      const len = k === 0 ? 7 : 4;
      for (const t of X_TICKS) {
        if (t <= X_MIN) continue;
        const x = Math.round(xs.getPixelForValue(t));
        ctx.beginPath();
        ctx.moveTo(x, y);
        ctx.lineTo(x, y - len);
        ctx.stroke();
      }
    }
    ctx.fillStyle = '#000';
    ctx.font = `bold 37px ${FONT}`;
    ctx.textAlign = 'center';
    ctx.textBaseline = 'alphabetic';
    const cx = (a.left + a.right) / 2;
    ctx.fillText(TITLE, cx + 5, a.top - 14);
    ctx.fillText(X_LABEL, cx - 45, a.bottom + 81);
    ctx.restore();
  },
};

export default function App() {
  const ref = useRef<HTMLCanvasElement | null>(null);

  useEffect(() => {
    if (!ref.current) return;
    const datasets = TRACES.map((vals, i) => ({
      label: STATIONS[i],
      data: vals.map((v, k) => ({ x: k * SAMPLE_STEP, y: N - i - 0.5 + (v / FULL_SCALE) * 0.5 })),
      borderColor: '#000',
      borderWidth: 1.6,
      pointRadius: 0,
      tension: 0,
      fill: false,
    }));
    const chart = new Chart(ref.current, {
      type: 'line',
      data: { datasets },
      plugins: [framePlugin],
      options: {
        responsive: false,
        animation: false,
        devicePixelRatio: 1,
        layout: { padding: { top: 109, right: 32, bottom: 75, left: 0 } },
        plugins: { legend: { display: false }, tooltip: { enabled: false }, title: { display: false } },
        scales: {
          x: {
            type: 'linear',
            min: X_MIN,
            max: X_MAX,
            afterBuildTicks: (scale: any) => {
              scale.ticks = X_TICKS.map((v) => ({ value: v }));
            },
            afterFit: (scale: any) => {
              scale.height = 60;
            },
            ticks: { font: { size: 32, family: FONT }, color: '#000', padding: 4, maxRotation: 0, autoSkip: false },
            grid: { display: false, drawTicks: false },
            border: { display: false },
          },
          y: {
            type: 'linear',
            min: 0,
            max: N,
            afterBuildTicks: (scale: any) => {
              scale.ticks = STATIONS.map((_, i) => ({ value: N - i - 0.5 }));
            },
            afterFit: (scale: any) => {
              scale.width = 173;
            },
            ticks: {
              callback: (v: any) => STATIONS[Math.round(N - 0.5 - Number(v))],
              font: { size: 37, family: FONT },
              color: '#000',
              padding: 21,
              autoSkip: false,
            },
            grid: { display: false, drawTicks: false },
            border: { display: false },
          },
        },
      } as any,
    });
    return () => chart.destroy();
  }, []);

  return (
    <div style={{ position: 'absolute', left: 0, top: 0, width: W, height: H, background: '#fff' }}>
      <canvas ref={ref} width={W} height={H} style={{ width: W, height: H, display: 'block' }} />
    </div>
  );
}
